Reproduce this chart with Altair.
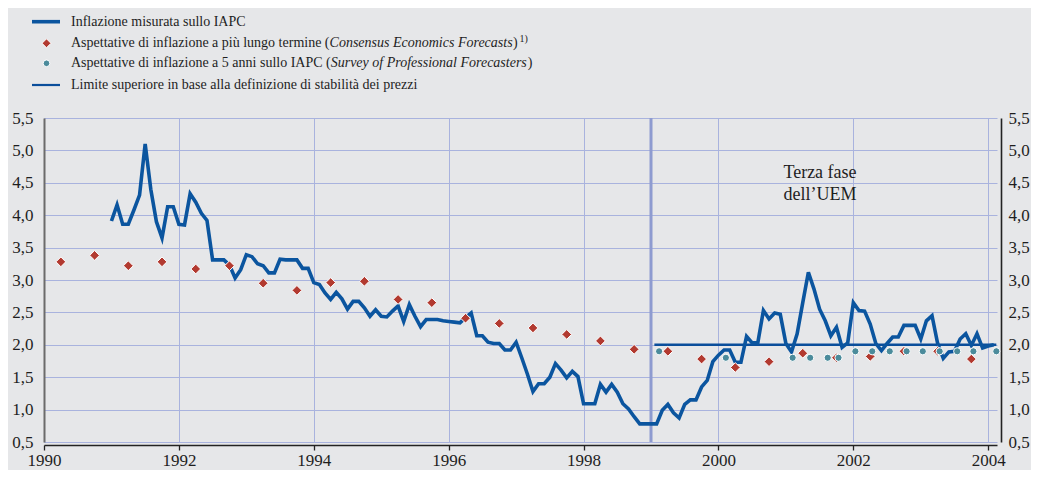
import altair as alt
import pandas as pd

# ---------------- data ----------------
hicp_start_year = 1991  # monthly series, first value = January 1991
hicp_values = [
    3.91, 4.16, 3.86, 3.86, 4.08, 4.31, 5.10, 4.40, 3.90, 3.65, 4.13, 4.13,   # 1991
    3.86, 3.85, 4.33, 4.20, 4.03, 3.92, 3.31, 3.31, 3.31, 3.23, 3.03, 3.16,   # 1992
    3.39, 3.36, 3.25, 3.22, 3.11, 3.11, 3.32, 3.31, 3.31, 3.31, 3.18, 3.18,   # 1993
    2.96, 2.93, 2.80, 2.70, 2.81, 2.71, 2.55, 2.67, 2.67, 2.57, 2.44, 2.54,   # 1994
    2.44, 2.43, 2.52, 2.60, 2.36, 2.62, 2.44, 2.28, 2.39, 2.39, 2.39, 2.37,   # 1995
    2.36, 2.35, 2.34, 2.42, 2.49, 2.14, 2.14, 2.04, 2.02, 2.02, 1.92, 1.92,   # 1996
    2.04, 1.80, 1.55, 1.28, 1.40, 1.40, 1.50, 1.71, 1.61, 1.49, 1.59, 1.51,   # 1997
    1.09, 1.09, 1.09, 1.39, 1.27, 1.39, 1.27, 1.09, 1.01, 0.89, 0.78, 0.78,   # 1998
    0.78, 0.78, 0.99, 1.08, 0.95, 0.87, 1.08, 1.15, 1.15, 1.35, 1.45, 1.74,   # 1999
    1.84, 1.92, 1.92, 1.73, 1.73, 2.13, 2.03, 2.03, 2.53, 2.40, 2.49, 2.47,   # 2000
    2.02, 1.89, 2.17, 2.65, 3.12, 2.86, 2.55, 2.37, 2.14, 2.27, 1.96, 2.03,   # 2001
    2.65, 2.53, 2.52, 2.32, 2.02, 1.91, 2.02, 2.12, 2.12, 2.30, 2.30, 2.30,   # 2002
    2.09, 2.37, 2.45, 2.02, 1.79, 1.89, 1.90, 2.09, 2.17, 1.99, 2.17, 1.95,   # 2003
    1.98, 2.00,                                                               # 2004
]

consensus_dates = [
    1990.25, 1990.75, 1991.25, 1991.75, 1992.25, 1992.75, 1993.25, 1993.75,
    1994.25, 1994.75, 1995.25, 1995.75, 1996.25, 1996.75, 1997.25, 1997.75,
    1998.25, 1998.75, 1999.25, 1999.75, 2000.25, 2000.75, 2001.25, 2001.75,
    2002.25, 2002.75, 2003.25, 2003.75,
]
consensus_values = [
    3.28, 3.38, 3.22, 3.28, 3.17, 3.22, 2.95, 2.84,
    2.96, 2.98, 2.70, 2.65, 2.41, 2.33, 2.26, 2.16,
    2.06, 1.93, 1.90, 1.78, 1.65, 1.74, 1.87, 1.80,
    1.82, 1.90, 1.90, 1.78,
]

spf_dates = [
    1999.12, 2000.11, 2001.10, 2001.36, 2001.62, 2001.78, 2002.03, 2002.28,
    2002.54, 2002.79, 2003.03, 2003.28, 2003.54, 2003.78, 2004.12,
]
spf_values = [
    1.9, 1.8, 1.8, 1.8, 1.8, 1.8, 1.9, 1.9,
    1.9, 1.9, 1.9, 1.9, 1.9, 1.9, 1.9,
]

limit_start = [1999.05]
limit_end = [2004.12]
limit_value = [2.0]
emu_start = [1999.0]

year_ticks = [1990, 1992, 1994, 1996, 1998, 2000, 2002, 2004]
y_ticks = [0.5, 1.0, 1.5, 2.0, 2.5, 3.0, 3.5, 4.0, 4.5, 5.0, 5.5]

legend_row1 = ["Inflazione misurata sullo IAPC"]
legend_row2 = ["Aspettative di inflazione a più lungo termine (", "Consensus Economics Forecasts", ")", "1)"]
legend_row3 = ["Aspettative di inflazione a 5 anni sullo IAPC (", "Survey of Professional Forecasters", ")"]
legend_row4 = ["Limite superiore in base alla definizione di stabilità dei prezzi"]
annotation_lines = ["Terza fase", "dell\u2019UEM"]

# ---------------- tables ----------------
hicp_df = pd.DataFrame({
    "t": [hicp_start_year + i / 12 for i in range(len(hicp_values))],
    "v": hicp_values,
})
cons_df = pd.DataFrame({"t": consensus_dates, "v": consensus_values})
spf_df = pd.DataFrame({"t": spf_dates, "v": spf_values})
limit_df = pd.DataFrame({"t": limit_start, "t2": limit_end, "v": limit_value})
emu_df = pd.DataFrame({"t": emu_start})

# ---------------- style ----------------
FONT = "Liberation Serif"
BG = "#e6e7e9"
GRID = "#a9b3de"
BLUE = "#0b559f"
RED = "#b23a30"
TEAL = "#4b8b9b"
TXT = "#1e1e1e"

PAD_L, PAD_T, PAD_R, PAD_B = 36, 110, 34, 28
W, H = 953, 324
LABEL_EXPR = "replace(format(datum.value, '.1f'), '.', ',')"

xscale = alt.Scale(domain=[1990, 2004.13], nice=False, zero=False)
yscale = alt.Scale(domain=[0.5, 5.5], nice=False, zero=False)

xaxis = alt.Axis(values=year_ticks, format="d", grid=True, gridColor=GRID, gridWidth=1,
                 domainColor="#222222", domainWidth=1.6, tickColor="#222222", tickSize=5,
                 tickWidth=1.3, labelFont=FONT, labelFontSize=17, labelColor=TXT,
                 labelPadding=2, offset=3, title=None, labelFlush=False, labelOverlap=False)
yaxis_left = alt.Axis(values=y_ticks, labelExpr=LABEL_EXPR, grid=True, gridColor=GRID,
                      gridWidth=1, domainColor="#6b6b6b", domainWidth=2, ticks=False,
                      labelPadding=11, labelFont=FONT, labelFontSize=17, labelColor=TXT,
                      title=None, labelFlush=False, labelOverlap=False)
yaxis_right = alt.Axis(orient="right", values=y_ticks, labelExpr=LABEL_EXPR, grid=False,
                       domainColor="#222222", domainWidth=1.6, ticks=False, labelPadding=7,
                       offset=4, labelFont=FONT, labelFontSize=17, labelColor=TXT,
                       title=None, labelFlush=False, labelOverlap=False)


def X(field="t"):
    return alt.X(f"{field}:Q", scale=xscale, axis=xaxis)


def Y(axis=None):
    return alt.Y("v:Q", scale=yscale, axis=axis)


emu_rule = alt.Chart(emu_df).mark_rule(color="#8e9bd0", strokeWidth=3).encode(x=X())

limit_rule = alt.Chart(limit_df).mark_rule(color="#0a4e9b", strokeWidth=2.5).encode(
    x=X(), x2="t2:Q", y=Y())

hicp_line = alt.Chart(hicp_df).mark_line(color=BLUE, strokeWidth=3.6, strokeJoin="miter").encode(
    x=X(), y=Y(yaxis_left))

cons_pts = alt.Chart(cons_df).mark_point(shape="diamond", filled=True, fill=RED, stroke="white",
                                         strokeWidth=1, size=95, opacity=1).encode(x=X(), y=Y())

spf_pts = alt.Chart(spf_df).mark_point(shape="circle", filled=True, fill=TEAL, stroke="white",
                                       strokeWidth=1, size=52, opacity=1).encode(x=X(), y=Y(yaxis_right))


def annot_text(i, ypix):
    return alt.Chart(pd.DataFrame({"s": [annotation_lines[i]]})).mark_text(
        font=FONT, fontSize=18, color=TXT, align="center", baseline="middle").encode(
        x=alt.value(776), y=alt.value(ypix), text="s:N")


annots = [annot_text(0, 55), annot_text(1, 77)]

# ---------------- legend (drawn above the plot) ----------------
LEG_FS = 14
TOP = 8 + PAD_T
ROWS = [21.7 - TOP, 43.3 - TOP, 63.3 - TOP, 85.0 - TOP]
TX = 71 - 8 - PAD_L
SX0, SX1 = 32 - 8 - PAD_L, 60 - 8 - PAD_L
SXC = 46.5 - 8 - PAD_L


def legend_text(txt, x, y, italic=False, size=LEG_FS):
    props = dict(font=FONT, fontSize=size, color=TXT, align="left", baseline="middle")
    if italic:
        props["fontStyle"] = "italic"
    return alt.Chart(pd.DataFrame({"s": [txt]})).mark_text(**props).encode(
        x=alt.value(x), y=alt.value(y), text="s:N")


leg_line1 = alt.Chart(pd.DataFrame({"s": legend_row1})).mark_rule(color=BLUE, strokeWidth=3.6).encode(
    x=alt.value(SX0), x2=alt.value(SX1), y=alt.value(ROWS[0]))
leg_line4 = alt.Chart(pd.DataFrame({"s": legend_row4})).mark_rule(color="#0a4e9b", strokeWidth=2.2).encode(
    x=alt.value(SX0), x2=alt.value(SX1), y=alt.value(ROWS[3]))
leg_dia = alt.Chart(pd.DataFrame({"s": legend_row2[:1]})).mark_point(
    shape="diamond", filled=True, fill=RED, stroke="white", strokeWidth=1, size=80, opacity=1).encode(
    x=alt.value(SXC), y=alt.value(ROWS[1]))
leg_dot = alt.Chart(pd.DataFrame({"s": legend_row3[:1]})).mark_point(
    shape="circle", filled=True, fill=TEAL, stroke="white", strokeWidth=1, size=45, opacity=1).encode(
    x=alt.value(SXC), y=alt.value(ROWS[2]))

r2_ital = TX + 18.47 * LEG_FS
r2_close = r2_ital + 13.11 * LEG_FS
r3_ital = TX + 18.55 * LEG_FS
r3_close = r3_ital + 14.08 * LEG_FS

legend_layers = [
    leg_line1, leg_line4, leg_dia, leg_dot,
    legend_text(legend_row1[0], TX, ROWS[0]),
    legend_text(legend_row2[0], TX, ROWS[1]),
    legend_text(legend_row2[1], r2_ital, ROWS[1], italic=True),
    legend_text(legend_row2[2], r2_close, ROWS[1]),
    legend_text(legend_row2[3], r2_close + 6.5, ROWS[1] - 4, size=10),
    legend_text(legend_row3[0], TX, ROWS[2]),
    legend_text(legend_row3[1], r3_ital, ROWS[2], italic=True),
    legend_text(legend_row3[2], r3_close, ROWS[2]),
    legend_text(legend_row4[0], TX, ROWS[3]),
]

chart = alt.layer(
    emu_rule, limit_rule, hicp_line, cons_pts, spf_pts, *annots, *legend_layers
).resolve_axis(y="independent").properties(
    width=W, height=H,
    autosize=alt.AutoSizeParams(type="none"),
    padding={"left": PAD_L, "top": PAD_T, "right": PAD_R, "bottom": PAD_B},
    background=BG,
).configure_view(stroke=None, fill=BG)

chart.save("out.html", embed_options={"renderer": "svg", "actions": False})
